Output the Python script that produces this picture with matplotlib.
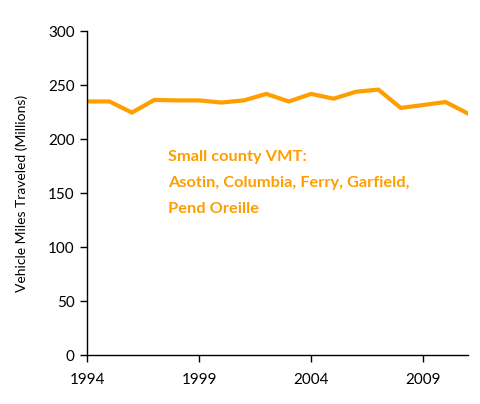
import matplotlib
matplotlib.use("Agg")
import matplotlib.pyplot as plt

years = list(range(1994, 2012))
vmt = [235, 235, 224.7, 236.4, 236, 236, 234, 236, 242, 235, 242, 237.6, 244, 246, 229, 231.7, 234.5, 223.8]
xticks = [1994, 1999, 2004, 2009]
yticks = [0, 50, 100, 150, 200, 250, 300]

plt.rcParams['font.family'] = ['Lato', 'DejaVu Sans']
fig = plt.figure(figsize=(4.81, 4.04), dpi=100)
ax = fig.add_axes([0.181, 0.121, 0.792, 0.8015])
ax.plot(years, vmt, color='#FF9E00', linewidth=3)
ax.set_xlim(1994, 2011)
ax.set_ylim(0, 300)
ax.set_xticks(xticks)
ax.set_yticks(yticks)
ax.tick_params(labelsize=11, length=5, width=1, color='black', pad=4)
ax.tick_params(axis='x', pad=8)
for s in ['top', 'right']:
    ax.spines[s].set_visible(False)
for s in ['left', 'bottom']:
    ax.spines[s].set_linewidth(1)
ax.set_ylabel('Vehicle Miles Traveled (Millions)', fontsize=10, labelpad=14)
ax.text(1997.6, 190, 'Small county VMT:\nAsotin, Columbia, Ferry, Garfield,\nPend Oreille',
        color='#FF9E00', fontsize=11.8, fontweight='bold', va='top', ha='left', linespacing=2.1)
fig.savefig('out.png', dpi=100)
